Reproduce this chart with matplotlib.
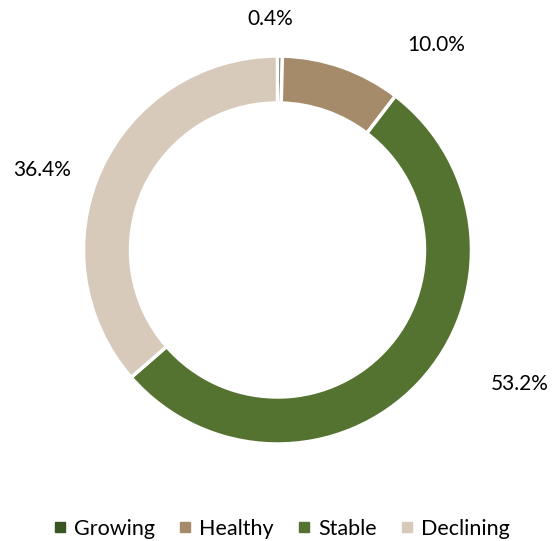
import matplotlib
matplotlib.use("Agg")
import matplotlib.pyplot as plt
from matplotlib.lines import Line2D

categories = ["Growing", "Healthy", "Stable", "Declining"]
values = [0.4, 10.0, 53.2, 36.4]
value_labels = ["0.4%", "10.0%", "53.2%", "36.4%"]
colors = ["#375623", "#A68B6A", "#547230", "#D7CABB"]

plt.rcParams['font.family'] = ['Lato', 'DejaVu Sans']

W, H = 554, 541
fig = plt.figure(figsize=(W / 100, H / 100), dpi=100)
ax = fig.add_axes([0, 0, 1, 1])

cx, cy = 277.5, H - 250
R = 194
wedges, _ = ax.pie(values, colors=colors, startangle=90, counterclock=False,
                   radius=R, center=(cx, cy),
                   wedgeprops=dict(width=47, edgecolor="white", linewidth=2.5))
ax.set_xlim(0, W)
ax.set_ylim(0, H)
ax.set_aspect('equal')
ax.axis('off')

# label positions in pixel coords (x, y from top)
label_pos = [(270, 19), (436, 45), (520, 384), (42, 170)]
for (lx, ly), txt in zip(label_pos, value_labels):
    ax.text(lx, H - ly, txt, ha='center', va='center', fontsize=15, color='#000000')

handles = [Line2D([0], [0], marker='s', linestyle='none', markersize=6.5,
                  markerfacecolor=c, markeredgecolor=c) for c in colors]
ax.legend(handles, categories, loc='center', bbox_to_anchor=(282 / W, 1 - 529 / H),
          ncol=4, frameon=False, fontsize=15.5, handlelength=0.5, handletextpad=0.4,
          columnspacing=1.15, borderpad=0)

fig.savefig("out.png", dpi=100)
